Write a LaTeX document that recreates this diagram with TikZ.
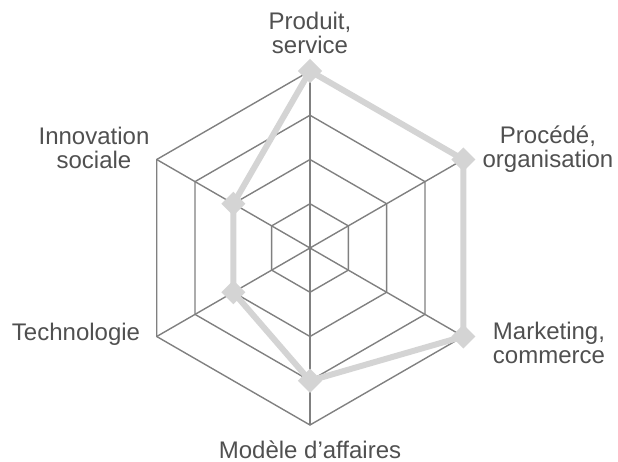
\documentclass[tikz,border=0pt]{standalone}
\usepackage{xcolor}
\usepackage{fontspec}
\setmainfont{Liberation Sans}
\usepackage{tikz}

\definecolor{gridgray}{HTML}{808080}
\definecolor{datagray}{HTML}{D4D4D4}
\definecolor{labelgray}{HTML}{505050}

\begin{document}
\begin{tikzpicture}[x=0.5pt, y=0.5pt,
        grid/.style={gridgray, line width=0.7pt},
        data/.style={datagray, line width=3pt, line join=round},
        point/.style={fill=datagray, rotate=45, minimum size=8.5pt, inner sep=0pt},
        axis label/.style={labelgray, align=center, font=\fontsize{12}{12}\selectfont}]
        \useasboundingbox (-310,-214) rectangle (308,248);
        % centre and outer corners
        \coordinate (O) at (0,0);
        \coordinate (A) at (90:177);
        \coordinate (B) at (30:177);
        \coordinate (C) at (-30:177);
        \coordinate (D) at (-90:177);
        \coordinate (E) at (-150:177);
        \coordinate (F) at (150:177);
        % rings and spokes
        \foreach \r in {44.25, 88.5, 132.75, 177}
            \draw[grid] (90:\r) -- (30:\r) -- (-30:\r) -- (-90:\r) -- (-150:\r) -- (150:\r) -- cycle;
        \draw[grid] (O) -- (A);
        \draw[grid] (O) -- (B);
        \draw[grid] (O) -- (C);
        \draw[grid] (O) -- (D);
        \draw[grid] (O) -- (E);
        \draw[grid] (O) -- (F);
        % scores
        \node[point] (pA) at (A) {};
        \node[point] (pB) at (B) {};
        \node[point] (pC) at (C) {};
        \node[point] (pD) at (-90:132.75) {};
        \node[point] (pE) at (-150:88.5) {};
        \node[point] (pF) at (150:88.5) {};
        \draw[data] (pA.center) -- (pB.center) -- (pC.center) -- (pD.center) -- (pE.center) -- (pF.center) -- cycle;
        % labels
        \node[axis label] (produit) at (0,215) {Produit,\\service};
        \node[axis label] (procede) at (238,99) {Procédé,\\organisation};
        \node[axis label] (marketing) at (239,-95) {Marketing,\\commerce};
        \node[axis label, anchor=base] (modele) at (0,-210) {Modèle d’affaires};
        \node[axis label, anchor=base] (techno) at (-234,-92) {Technologie};
        \node[axis label] (innovation) at (-216,100) {Innovation\\sociale};
    \end{tikzpicture}
\end{document}
